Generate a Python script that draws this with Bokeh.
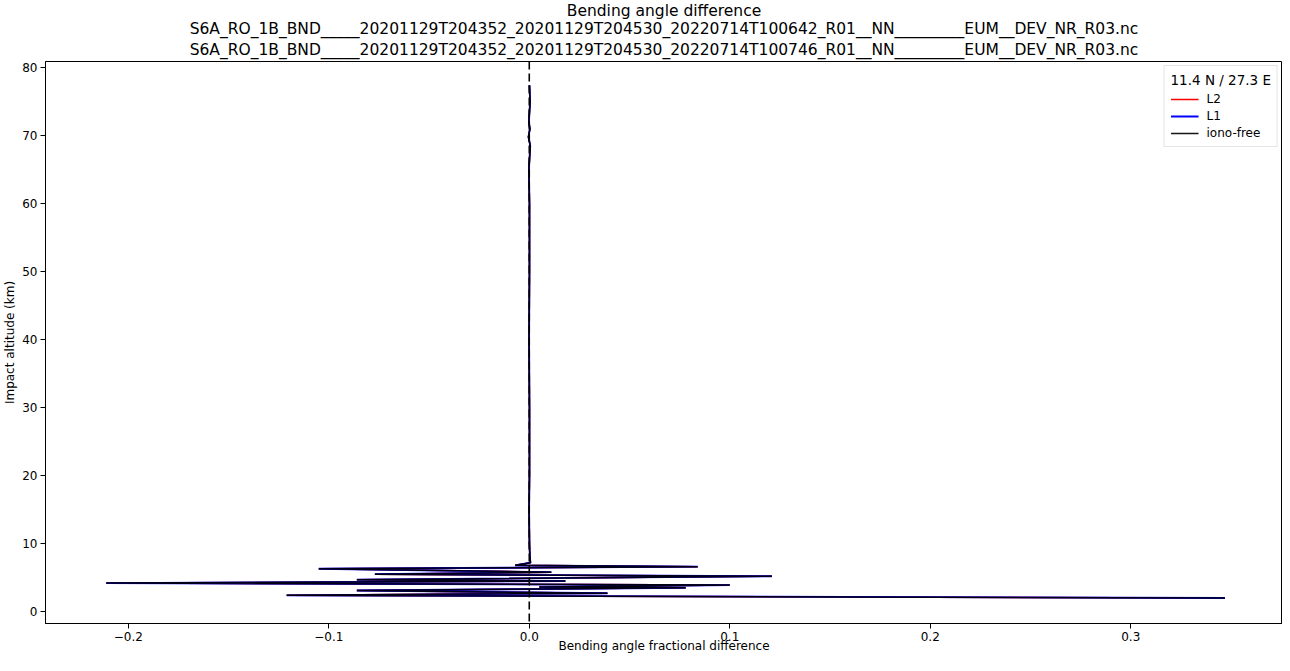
from bokeh.plotting import figure
from bokeh.models import Span, Title, Range1d, CustomJSTickFormatter, FixedTicker, Legend
from bokeh.embed import file_html
from bokeh.resources import INLINE

# ---- data ----
impact_alt_km = [2.0, 2.4, 2.7, 3.1, 3.5, 3.6, 3.9, 4.2, 4.5, 4.7, 5.2, 5.5, 5.8, 6.3,
                 6.6, 6.8, 7.2, 8.0, 10.0, 15.0, 20.0, 30.0, 40.0, 50.0, 60.0, 65.0,
                 68.5, 69.8, 71.0, 72.0, 75.0, 77.4]
iono_free_diff = [0.347, -0.121, 0.039, -0.086, 0.078, 0.005, 0.100, -0.211, 0.018, -0.086,
                  0.121, -0.077, 0.011, -0.105, 0.084, -0.007, 0.0006, 0.0003, 0.0001, -0.0001,
                  0.0001, 0.0001, -0.0001, 0.0001, 0.0001, -0.0002, 0.0005, -0.0004, 0.0003,
                  -0.0002, 0.0004, 0.0001]
l1_diff = [0.347, -0.121, 0.039, -0.086, 0.078, 0.005, 0.100, -0.211, 0.018, -0.086,
           0.121, -0.077, 0.011, -0.105, 0.084, -0.007, 0.0006, 0.0003, 0.0001, -0.0001,
           0.0001, 0.0001, -0.0001, 0.0001, 0.0001, -0.0002, 0.0005, -0.0004, 0.0003,
           -0.0002, 0.0004, 0.0001]
l2_diff = [0.347, -0.121, 0.039, -0.086, 0.078, 0.005, 0.100, -0.211, 0.018, -0.086,
           0.121, -0.077, 0.011, -0.105, 0.084, -0.007, 0.0006, 0.0003, 0.0001, -0.0001,
           0.0001, 0.0001, -0.0001, 0.0001, 0.0001, -0.0002, 0.0005, -0.0004, 0.0003,
           -0.0002, 0.0004, 0.0001]
x_ticks = [-0.2, -0.1, 0.0, 0.1, 0.2, 0.3]
y_ticks = [0, 10, 20, 30, 40, 50, 60, 70, 80]

title_lines = [
    "Bending angle difference",
    "S6A_RO_1B_BND_____20201129T204352_20201129T204530_20220714T100642_R01__NN_________EUM__DEV_NR_R03.nc",
    "S6A_RO_1B_BND_____20201129T204352_20201129T204530_20220714T100746_R01__NN_________EUM__DEV_NR_R03.nc",
]
legend_title = "11.4 N / 27.3 E"

FONT = "DejaVu Sans"

p = figure(width=1282, height=655, output_backend="svg", toolbar_location=None,
           x_range=Range1d(-0.2413, 0.3757), y_range=Range1d(-1.75, 80.9),
           min_border_left=37, min_border_right=0, min_border_top=0, min_border_bottom=0)

# p.title ends up outermost; titles added afterwards stack from the plot outward
p.title.text = title_lines[0]
p.title.align = "center"
p.title.text_font = FONT
p.title.text_font_size = "15.5px"
p.title.text_font_style = "normal"
p.title.text_color = "black"
p.title.standoff = -2
for t, so in [(title_lines[2], 5), (title_lines[1], -2)]:
    p.add_layout(Title(text=t, align="center", text_font=FONT, text_font_size="15.5px",
                       text_font_style="normal", text_color="black", standoff=so), "above")

r2 = p.line(l2_diff, impact_alt_km, line_color="red", line_width=1.5)
r1 = p.line(l1_diff, impact_alt_km, line_color="blue", line_width=1.8)
r0 = p.line(iono_free_diff, impact_alt_km, line_color="black", line_width=1.5, line_alpha=0.92)

p.add_layout(Span(location=0, dimension="height", line_color="black", line_width=1.6,
                  line_dash="8 4"))

legend = Legend(items=[("L2", [r2]), ("L1", [r1]), ("iono-free", [r0])],
                location="top_right", title=legend_title,
                title_text_font=FONT, title_text_font_size="13.5px", title_text_font_style="normal",
                title_text_color="black",
                label_text_font=FONT, label_text_font_size="12px", label_text_color="black",
                border_line_color="#cccccc", border_line_width=1,
                glyph_width=28, glyph_height=12, label_standoff=8, spacing=3,
                padding=6, margin=4, label_height=14, title_standoff=4)
p.add_layout(legend)

for ax in (p.xaxis, p.yaxis):
    ax.axis_line_color = "black"
    ax.major_tick_line_color = "black"
    ax.major_tick_out = 5
    ax.major_tick_in = 0
    ax.minor_tick_line_color = None
    ax.major_label_text_font = FONT
    ax.major_label_text_font_size = "12px"
    ax.major_label_text_color = "black"
    ax.axis_label_text_font = FONT
    ax.axis_label_text_font_size = "12px"
    ax.axis_label_text_font_style = "normal"
    ax.axis_label_text_color = "black"
    ax.major_label_standoff = 3

p.xaxis.axis_label_standoff = -5
p.yaxis.axis_label_standoff = 2

p.xaxis.ticker = FixedTicker(ticks=x_ticks)
p.yaxis.ticker = FixedTicker(ticks=y_ticks)
p.xaxis.formatter = CustomJSTickFormatter(code="return tick.toFixed(1).replace('-', '\u2212');")
p.yaxis.formatter = CustomJSTickFormatter(code="return tick.toFixed(0).replace('-', '\u2212');")
p.xaxis.axis_label = "Bending angle fractional difference"
p.yaxis.axis_label = "Impact altitude (km)"

p.xgrid.visible = False
p.ygrid.visible = False
p.outline_line_color = "black"
p.outline_line_alpha = 1.0

open("out.html", "w").write(file_html(p, INLINE))
